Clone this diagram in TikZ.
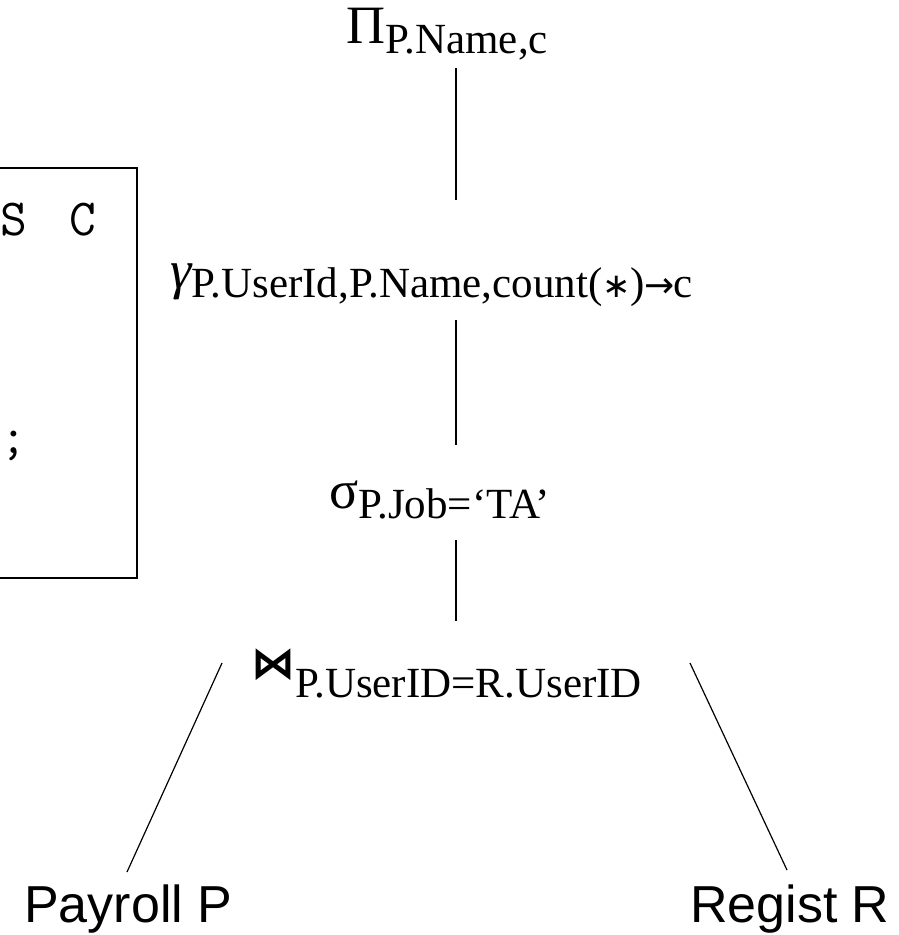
\documentclass[tikz,border=0pt]{standalone}
\usepackage{fontspec}
\setmainfont{Liberation Serif}
\newfontfamily\relfont{Liberation Sans}
\newfontfamily\opsymfont{DejaVu Sans}
\usetikzlibrary{calc}

\begin{document}
\begin{tikzpicture}[x=1pt,y=-1pt,
  treeline/.style={line width=1.2pt,black},
  oplabel/.style={inner sep=0pt,font=\fontsize{43}{43}\selectfont},
  relname/.style={inner sep=0pt,font=\relfont\fontsize{52}{52}\selectfont},
  sqltext/.style={inner sep=0pt,font=\ttfamily\fontsize{52}{52}\selectfont}]
\useasboundingbox[fill=white] (0,0) rectangle (898,935);

% the SQL query box, cut off by the left margin
\draw[line width=1.3pt] (-10,168) rectangle (137,578);
\node[sqltext,anchor=base west] (sqlA) at (0,235) {S\hspace{16pt} C};
\node[sqltext,anchor=base west] (sqlB) at (0,453) {;};

% operator labels of the plan
\coordinate (spine) at (456,0);
\newcommand{\starop}{{\opsymfont\fontsize{34}{34}\selectfont ∗}}
\newcommand{\arrowop}{{\opsymfont\fontsize{36}{36}\selectfont\kern-1pt→\kern-1pt}}
\node[oplabel,anchor=base east] (pi) at (548,43)
  {{\fontsize{54}{54}\selectfont Π}\raisebox{-10pt}{P.Name,c}};
\node[oplabel,anchor=base west] (gamma) at (170,288)
  {{\fontsize{54}{54}\selectfont\itshape γ}\raisebox{-9pt}{P.UserId,P.Name,count(\starop)\arrowop c}};
\node[oplabel,anchor=base east] (sigma) at (550,508)
  {{\fontsize{54}{54}\selectfont σ}\raisebox{-10pt}{P.Job=‘TA’}};
\node[oplabel,anchor=base west] (join) at (251,678)
  {{\opsymfont\bfseries\fontsize{44}{44}\selectfont ⋈}\raisebox{-19pt}{P.UserID=R.UserID}};

% base relations
\node[relname,anchor=base west] (payroll) at (24,922) {Payroll P};
\node[relname,anchor=base west] (regist) at (690,922) {Regist R};

% edges of the plan
\draw[treeline] ($(pi.base -| spine)+(0,25)$) -- ($(gamma.base -| spine)+(0,-88)$);
\draw[treeline] ($(gamma.base -| spine)+(0,32)$) -- ($(sigma.base -| spine)+(0,-63)$);
\draw[treeline] ($(sigma.base -| spine)+(0,32)$) -- ($(join.base -| spine)+(0,-57)$);
\draw[treeline] ($(join.base west)+(-29,-15)$) -- ($(payroll.base west)+(103,-50)$);
\draw[treeline] ($(join.base west)+(439,-15)$) -- ($(regist.base west)+(97,-52)$);
\end{tikzpicture}
\end{document}
